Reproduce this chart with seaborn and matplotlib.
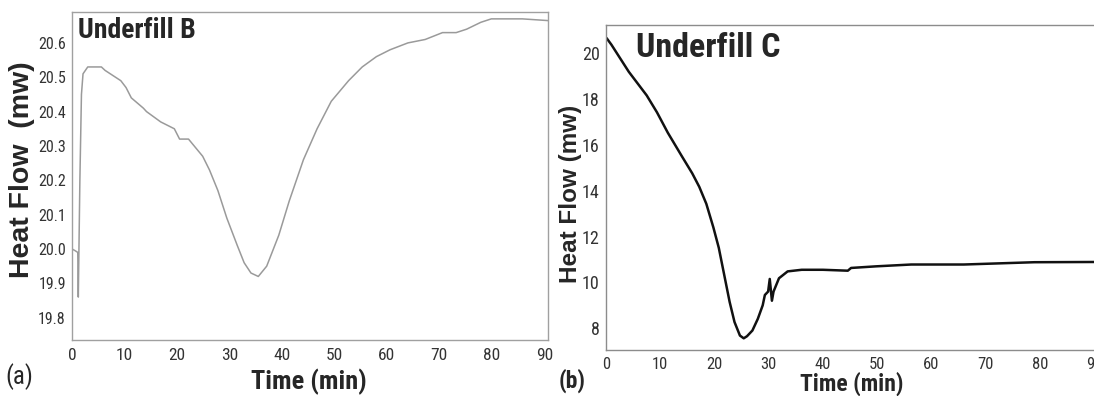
import matplotlib
matplotlib.use("Agg")
import matplotlib.pyplot as plt
import seaborn as sns
import pandas as pd

# ---- data ----
time_b = [0, 0.6, 1.1, 1.2, 1.5, 1.8, 2.1, 3.0, 5.6, 6.3, 9.3, 10.3, 11.3, 13.6, 14.2,
          16.9, 19.5, 20.5, 22.2, 24.9, 26.2, 27.8, 29.5, 31.5, 32.8, 34.1, 35.5,
          37.1, 39.4, 41.4, 44.1, 46.7, 49.4, 52.7, 55.3, 58.0, 60.6, 64.0, 67.3,
          70.6, 73.2, 75.2, 77.9, 79.9, 85.8, 90.7]
heat_b = [20.0, 19.995, 19.99, 19.86, 20.2, 20.45, 20.51, 20.53, 20.53, 20.52, 20.49,
          20.47, 20.44, 20.41, 20.40, 20.37, 20.35, 20.32, 20.32, 20.27, 20.23, 20.17,
          20.09, 20.01, 19.96, 19.93, 19.92, 19.95, 20.04, 20.14, 20.26, 20.35, 20.43,
          20.49, 20.53, 20.56, 20.58, 20.60, 20.61, 20.63, 20.63, 20.64, 20.66, 20.67,
          20.67, 20.665]

time_c = [0.1, 1.0, 4.2, 7.5, 9.4, 11.4, 14.0, 15.9, 17.2, 18.5, 19.8, 20.8, 21.8,
          22.8, 23.7, 24.7, 25.4, 26.0, 27.0, 28.0, 28.9, 29.3, 29.9, 30.2, 30.6,
          30.9, 31.9, 33.5, 36.1, 40.0, 44.6, 45.2, 49.8, 56.3, 59.5, 66.0, 72.5,
          79.0, 90.0]
heat_c = [20.66, 20.37, 19.19, 18.16, 17.42, 16.53, 15.50, 14.76, 14.17, 13.43, 12.40,
          11.51, 10.33, 9.15, 8.27, 7.68, 7.56, 7.65, 7.90, 8.41, 9.00, 9.45, 9.60,
          10.15, 9.20, 9.60, 10.18, 10.48, 10.55, 10.55, 10.51, 10.63, 10.70, 10.78,
          10.78, 10.78, 10.83, 10.88, 10.89]

xticks = [0, 10, 20, 30, 40, 50, 60, 70, 80, 90]
yticks_b = [19.8, 19.9, 20.0, 20.1, 20.2, 20.3, 20.4, 20.5, 20.6]
yticks_c = [8, 10, 12, 14, 16, 18, 20]

sns.set_style("white")
NARROW = ["Liberation Sans Narrow", "Roboto Condensed", "Roboto", "DejaVu Sans"]
WIDE = ["Liberation Sans", "Arial", "DejaVu Sans"]
plt.rcParams["font.family"] = NARROW

W, H = 1094, 396
fig = plt.figure(figsize=(W / 100, H / 100), dpi=100)
fig.patch.set_facecolor("white")

def px_axes(x0, y0, x1, y1):
    return fig.add_axes([x0 / W, 1 - y1 / H, (x1 - x0) / W, (y1 - y0) / H])

axB = px_axes(72, 12, 548, 340)
axC = px_axes(606, 25, 1094, 350)

dfb = pd.DataFrame({"t": time_b, "hf": heat_b})
dfc = pd.DataFrame({"t": time_c, "hf": heat_c})

sns.lineplot(data=dfb, x="t", y="hf", ax=axB, sort=False, estimator=None,
             color="#9a9a9a", linewidth=1.1)
sns.lineplot(data=dfc, x="t", y="hf", ax=axC, sort=False, estimator=None,
             color="#111111", linewidth=1.8)

axB.set_xlim(0, 90.7)
axB.set_ylim(19.735, 20.69)
axC.set_xlim(0, 90.0)
axC.set_ylim(7.05, 21.23)

axB.set_xticks(xticks)
axB.set_yticks(yticks_b)
axB.set_yticklabels([f"{v:.1f}" for v in yticks_b])
axC.set_xticks(xticks)
axC.set_yticks(yticks_c)

for ax, sc in ((axB, "#a0a0a0"), (axC, "#8c8c8c")):
    ax.set_xlabel("")
    ax.set_ylabel("")
    for s in ax.spines.values():
        s.set_color(sc)
        s.set_linewidth(1.0)
    ax.tick_params(axis="both", direction="out", length=3, width=0.8,
                   color="#999999", labelcolor="#333333", pad=2)

axC.spines["right"].set_visible(False)

axB.tick_params(axis="y", labelsize=11.5, pad=1.5)
axB.tick_params(axis="x", labelsize=12.5, pad=3)
axC.tick_params(axis="y", labelsize=13, pad=1.5)
axC.tick_params(axis="x", labelsize=12, pad=2)

def ftext(x, y, s, **kw):
    fig.text(x / W, 1 - y / H, s, **kw)

# axis titles
ftext(309, 382, "Time (min)", ha="center", va="center", fontsize=19,
      fontweight="bold", family=NARROW)
ftext(852, 384, "Time (min)", ha="center", va="center", fontsize=17,
      fontweight="bold", family=NARROW)
ftext(22, 170, "Heat Flow  (mw)", ha="center", va="center", fontsize=20.5,
      fontweight="bold", rotation=90, family=WIDE)
ftext(570, 194, "Heat Flow (mw)", ha="center", va="center", fontsize=17.5,
      fontweight="bold", rotation=90, family=WIDE)

# panel titles
ftext(78, 31, "Underfill B", ha="left", va="center", fontsize=20,
      fontweight="bold", family=NARROW)
ftext(636, 48, "Underfill C", ha="left", va="center", fontsize=24.5,
      fontweight="bold", family=NARROW)

# panel letters
ftext(19, 377, "(a)", ha="center", va="center", fontsize=18, family=NARROW)
ftext(572, 381, "(b)", ha="center", va="center", fontsize=17,
      fontweight="bold", family=NARROW)

fig.savefig("out.png", dpi=100, facecolor="white")
